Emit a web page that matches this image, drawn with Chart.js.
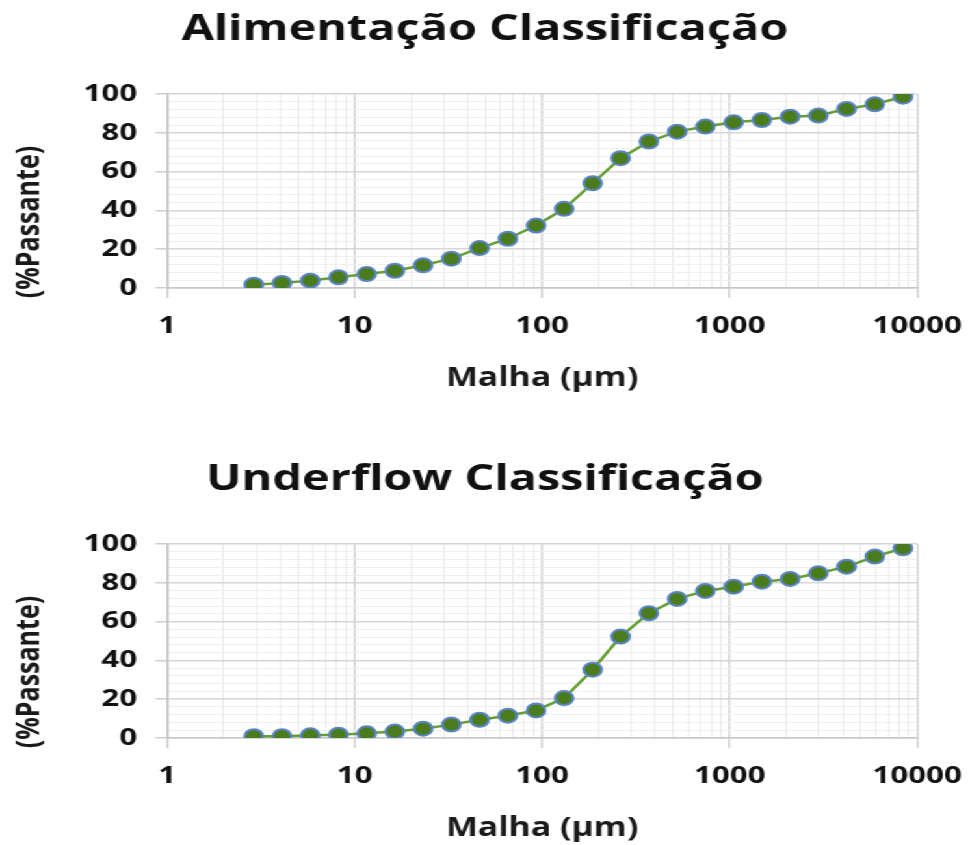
<!DOCTYPE html>
<html>
<head>
<meta charset="utf-8">
<script src="https://cdn.jsdelivr.net/npm/chart.js@4.4.1/dist/chart.umd.min.js"></script>
<style>
  html, body { margin: 0; padding: 0; background: #fff; overflow: hidden; width: 970px; height: 845px; }
  #wrap { position: absolute; left: 0; top: 0; width: 746px; height: 900px; transform-origin: 0 0; transform: scaleX(1.30027); }
  canvas { display: block; position: absolute; left: 0; }
  #c1 { top: 0; }
  #c2 { top: 450px; }
</style>
</head>
<body>
<div id="wrap">
  <canvas id="c1" width="746" height="450" style="width:746px;height:450px"></canvas>
  <canvas id="c2" width="746" height="450" style="width:746px;height:450px"></canvas>
</div>
<script>
// Sieve openings (µm) and cumulative % passing for each stream
const malha = [2.9, 4.1, 5.8, 8.2, 11.6, 16.4, 23.2, 32.8, 46.4, 65.6, 92.8, 131,
               186, 262, 371, 525, 742, 1050, 1485, 2100, 2970, 4200, 5940, 8400];
const alimentacao = [1.7, 2.6, 3.8, 5.5, 7.2, 8.9, 11.7, 15.1, 20.6, 25.4, 32.2, 40.8,
                     54.0, 66.9, 75.5, 80.6, 83.2, 85.4, 86.6, 88.3, 88.9, 92.3, 94.7, 98.6];
const underflow = [0.9, 0.9, 1.4, 1.7, 2.4, 3.3, 4.8, 6.9, 9.4, 11.5, 14.2, 20.6,
                   35.2, 52.3, 64.3, 71.7, 75.8, 78.0, 80.6, 82.0, 84.9, 88.3, 93.5, 97.8];

// Axis labels
const xTickLabels = [1, 10, 100, 1000, 10000];
const yTickLabels = [0, 20, 40, 60, 80, 100];
const xTitle = 'Malha (µm)';
const yTitle = '(%Passante)';

const FONT = "'Open Sans', sans-serif";
Chart.defaults.font.family = FONT;
Chart.defaults.color = '#1a1a1a';

// Rotated axis caption drawn beside the value axis
const sideTitle = {
  id: 'sideTitle',
  afterDraw(chart, args, opts) {
    const ctx = chart.ctx;
    ctx.save();
    ctx.translate(opts.x, opts.y);
    ctx.rotate(-Math.PI / 2);
    ctx.font = 'bold ' + opts.size + 'px ' + FONT;
    ctx.fillStyle = opts.color;
    ctx.textAlign = 'center';
    ctx.textBaseline = 'middle';
    ctx.fillText(opts.text, 0, 0);
    ctx.restore();
  }
};

const isMajorX = v => xTickLabels.includes(v);
const isMajorY = v => yTickLabels.includes(v);

function makeChart(id, title, values) {
  const points = malha.map((x, i) => ({ x: x, y: values[i] }));
  return new Chart(document.getElementById(id), {
    type: 'line',
    data: {
      datasets: [{
        data: points,
        borderColor: '#649F34',
        borderWidth: 2.5,
        pointRadius: 7,
        pointBackgroundColor: '#4A7C1E',
        pointBorderColor: '#5A84C4',
        pointBorderWidth: 2,
        tension: 0,
        fill: false
      }]
    },
    options: {
      responsive: false,
      animation: false,
      events: [],
      layout: { padding: 0 },
      plugins: {
        legend: { display: false },
        tooltip: { enabled: false },
        title: {
          display: true,
          text: title,
          color: '#111',
          font: { size: 36, weight: 'bold' },
          padding: { top: 8.4, bottom: 42.4 }
        },
        sideTitle: { text: yTitle, x: 23, y: 222, size: 25, color: '#1a1a1a' }
      },
      scales: {
        x: {
          type: 'logarithmic',
          min: 1,
          max: 10000,
          afterBuildTicks: scale => {
            const t = [];
            for (let d = 1; d < 10000; d *= 10) {
              for (let m = 1; m < 10; m++) t.push({ value: m * d });
            }
            t.push({ value: 10000 });
            scale.ticks = t;
          },
          afterFit: scale => {
            scale.height = 162;
            scale.paddingLeft = 0;
            scale.paddingRight = 40.6;
          },
          ticks: {
            autoSkip: false,
            maxRotation: 0,
            padding: 14,
            color: '#111',
            font: { size: 24, weight: 'bold' },
            callback: v => (isMajorX(v) ? String(v) : '')
          },
          grid: {
            drawTicks: true,
            tickLength: 10,
            color: c => (c.tick && isMajorX(c.tick.value) ? '#d2d2d2' : '#ebebeb'),
            lineWidth: c => (c.tick && isMajorX(c.tick.value) ? 1.5 : 1),
            tickColor: c => (c.tick && isMajorX(c.tick.value) ? '#cfcfcf' : 'rgba(0,0,0,0)')
          },
          border: { display: true, color: '#c6c6c6', width: 1.5 },
          title: {
            display: true,
            text: xTitle,
            color: '#1a1a1a',
            font: { size: 26, weight: 'bold' },
            padding: { top: 0, bottom: 56 }
          }
        },
        y: {
          type: 'linear',
          min: 0,
          max: 100,
          afterBuildTicks: scale => {
            const t = [];
            for (let v = 0; v <= 100; v += 4) t.push({ value: v });
            scale.ticks = t;
          },
          afterFit: scale => { scale.width = 128.5; },
          ticks: {
            autoSkip: false,
            padding: 14,
            color: '#111',
            font: { size: 24, weight: 'bold' },
            callback: v => (isMajorY(v) ? String(v) : '')
          },
          grid: {
            drawTicks: true,
            tickLength: 9,
            color: c => (c.tick && isMajorY(c.tick.value) ? '#d6d6d6' : '#efefef'),
            lineWidth: c => (c.tick && isMajorY(c.tick.value) ? 1.5 : 1),
            tickColor: c => (c.tick && isMajorY(c.tick.value) ? '#cfcfcf' : 'rgba(0,0,0,0)')
          },
          border: { display: true, color: '#c6c6c6', width: 1.5 }
        }
      }
    },
    plugins: [sideTitle]
  });
}

makeChart('c1', 'Alimentação Classificação', alimentacao);
makeChart('c2', 'Underflow Classificação', underflow);
</script>
</body>
</html>
